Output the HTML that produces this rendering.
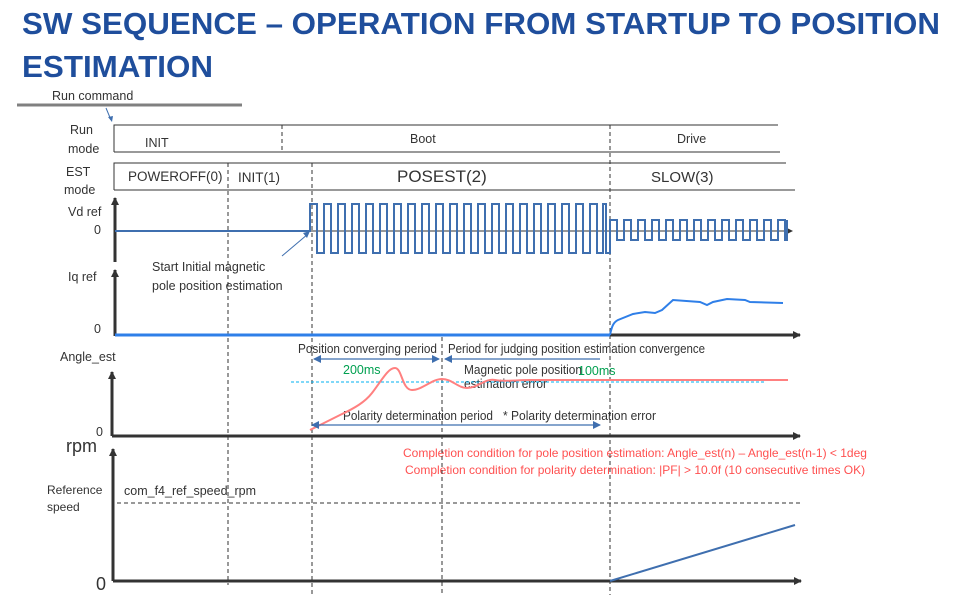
<!DOCTYPE html>
<html><head><meta charset="utf-8"><style>
html,body{margin:0;padding:0;background:#fff;}
svg{display:block;font-family:"Liberation Sans",sans-serif;}
</style></head><body>
<svg width="969" height="595" viewBox="0 0 969 595" xmlns="http://www.w3.org/2000/svg">
<defs>
<marker id="ah" markerWidth="8" markerHeight="8" refX="7" refY="4" orient="auto" markerUnits="userSpaceOnUse"><path d="M0,0 L8,4 L0,8 z" fill="#333"/></marker>
<marker id="bh" markerWidth="8" markerHeight="8" refX="7" refY="4" orient="auto-start-reverse" markerUnits="userSpaceOnUse"><path d="M0,0 L8,4 L0,8 z" fill="#3f6faf"/></marker>
</defs>
<text x="22" y="34" font-size="31" font-weight="bold" fill="#1f4e9c" textLength="918" lengthAdjust="spacingAndGlyphs">SW SEQUENCE – OPERATION FROM STARTUP TO POSITION</text>
<text x="22" y="77" font-size="31" font-weight="bold" fill="#1f4e9c" textLength="191" lengthAdjust="spacingAndGlyphs">ESTIMATION</text>

<g font-size="12.5" fill="#333">
<text x="52" y="100">Run command</text>
<text x="70" y="134">Run</text><text x="68" y="153">mode</text>
<text x="145" y="147">INIT</text><text x="410" y="143">Boot</text><text x="677" y="143">Drive</text>
<text x="66" y="176">EST</text><text x="64" y="194">mode</text>
<text x="128" y="181" font-size="13.5">POWEROFF(0)</text><text x="238" y="182" font-size="13.5">INIT(1)</text>
<text x="397" y="182" font-size="17">POSEST(2)</text><text x="651" y="182" font-size="15">SLOW(3)</text>
<text x="68" y="216">Vd ref</text><text x="94" y="234">0</text>
<text x="152" y="271">Start Initial magnetic</text><text x="152" y="290">pole position estimation</text>
<text x="68" y="281">Iq ref</text><text x="94" y="333">0</text>
<text x="60" y="361">Angle_est</text><text x="96" y="436">0</text>
<text x="298" y="353" textLength="139" lengthAdjust="spacingAndGlyphs">Position converging period</text>
<text x="448" y="353" textLength="257" lengthAdjust="spacingAndGlyphs">Period for judging position estimation convergence</text>
<text x="464" y="374" textLength="118" lengthAdjust="spacingAndGlyphs">Magnetic pole position</text><text x="464" y="388" textLength="83" lengthAdjust="spacingAndGlyphs">estimation error</text>
<text x="343" y="420" textLength="150" lengthAdjust="spacingAndGlyphs">Polarity determination period</text>
<text x="503" y="420" textLength="153" lengthAdjust="spacingAndGlyphs">* Polarity determination error</text>
<text x="47" y="494" font-size="12">Reference</text><text x="47" y="511" font-size="12">speed</text>
<text x="124" y="495">com_f4_ref_speed_rpm</text>
</g>
<text x="343" y="374" font-size="12.5" fill="#00a050">200ms</text>
<text x="578" y="375" font-size="12.5" fill="#00a050">100ms</text>
<text x="66" y="452" font-size="18" fill="#333">rpm</text>
<text x="96" y="590" font-size="18" fill="#333">0</text>
<g font-size="12" fill="#ff5050">
<text x="403" y="457">Completion condition for pole position estimation: Angle_est(n) – Angle_est(n-1) &lt; 1deg</text>
<text x="405" y="474">Completion condition for polarity determination: |PF| &gt; 10.0f    (10 consecutive times OK)</text>
</g>

<line x1="17" y1="105" x2="242" y2="105" stroke="#808080" stroke-width="3"/>
<line x1="106" y1="108" x2="111" y2="120" stroke="#3f6faf" stroke-width="1"/>
<path d="M108,117 L112,122 L113,116 z" fill="#3f6faf"/>

<g stroke="#333" stroke-width="1" fill="none">
<path d="M114,152 V125 H778 M114,152 H780"/>
<path d="M114,190 V163 H786 M114,190 H795"/>
</g>
<g stroke="#333" stroke-width="1" stroke-dasharray="4,3">
<line x1="282" y1="125" x2="282" y2="152"/>
<line x1="610" y1="125" x2="610" y2="595"/>
<line x1="228" y1="163" x2="228" y2="585"/>
<line x1="312" y1="163" x2="312" y2="595"/>
<line x1="442" y1="337" x2="442" y2="595"/>
<line x1="117" y1="503" x2="803" y2="503"/>
</g>

<g stroke="#333" stroke-width="3" fill="none">
<line x1="115" y1="262" x2="115" y2="198" marker-end="url(#ah)"/>
<line x1="115" y1="336" x2="115" y2="270" marker-end="url(#ah)"/>
<line x1="112" y1="436" x2="112" y2="372" marker-end="url(#ah)"/>
<line x1="112" y1="436" x2="800" y2="436" marker-end="url(#ah)"/>
<line x1="113" y1="581" x2="113" y2="449" marker-end="url(#ah)"/>
<line x1="113" y1="581" x2="801" y2="581" marker-end="url(#ah)"/>
<line x1="610" y1="335" x2="800" y2="335" marker-end="url(#ah)"/>
</g>
<line x1="115" y1="231" x2="792" y2="231" stroke="#333" stroke-width="1" marker-end="url(#ah)"/>
<line x1="115" y1="335" x2="610" y2="335" stroke="#2f7fe8" stroke-width="3"/>

<path fill="none" stroke="#3f6faf" stroke-width="2" d="M115,231 H310 V204
H317 V253 H324 V204 H331 V253 H338 V204 H345 V253 H352 V204 H359 V253 H366 V204
H373 V253 H380 V204 H387 V253 H394 V204 H401 V253 H408 V204 H415 V253 H422 V204
H429 V253 H436 V204 H443 V253 H450 V204 H457 V253 H464 V204 H471 V253 H478 V204
H485 V253 H492 V204 H499 V253 H506 V204 H513 V253 H520 V204 H527 V253 H534 V204
H541 V253 H548 V204 H555 V253 H562 V204 H569 V253 H576 V204 H583 V253 H590 V204
H597 V253 H603 V204 H606 V253 H610 V220
H617 V240 H624 V220 H631 V240 H638 V220 H645 V240 H652 V220 H659 V240 H666 V220
H673 V240 H680 V220 H687 V240 H694 V220 H701 V240 H708 V220 H715 V240 H722 V220
H729 V240 H736 V220 H743 V240 H750 V220 H757 V240 H764 V220 H771 V240 H778 V220
H785 V240 H787 V220 V238"/>
<line x1="282" y1="256" x2="308" y2="234" stroke="#3f6faf" stroke-width="1"/>
<path d="M310,231 L303,233 L307,238 z" fill="#3f6faf"/>

<path fill="none" stroke="#2f7fe8" stroke-width="2" d="M610,335 C612,325 614,322 618,320 L633,314 L645,312 L655,313 L662,310 L673,300 L700,302 L707,305 L713,302 L727,299 L745,300 L750,302 L783,303"/>

<line x1="291" y1="382" x2="765" y2="382" stroke="#00b0f0" stroke-width="1" stroke-dasharray="3,2"/>
<path fill="none" stroke="#ff8080" stroke-width="2" d="M310,430 L340,415 C355,408 365,402 372,393 C382,380 388,368 395,368 C402,368 402,390 412,390 C422,390 432,379 442,379 C452,379 458,388 467,388 C478,388 485,378 495,380 C505,382 515,380 530,380 L788,380"/>

<g stroke="#3f6faf" stroke-width="1.2">
<line x1="314" y1="359" x2="439" y2="359" marker-start="url(#bh)" marker-end="url(#bh)"/>
<line x1="445" y1="359" x2="600" y2="359" marker-start="url(#bh)"/>
<line x1="312" y1="425" x2="600" y2="425" marker-start="url(#bh)" marker-end="url(#bh)"/>
</g>
<line x1="610" y1="581" x2="795" y2="525" stroke="#3f6faf" stroke-width="2"/>
</svg>
</body></html>
